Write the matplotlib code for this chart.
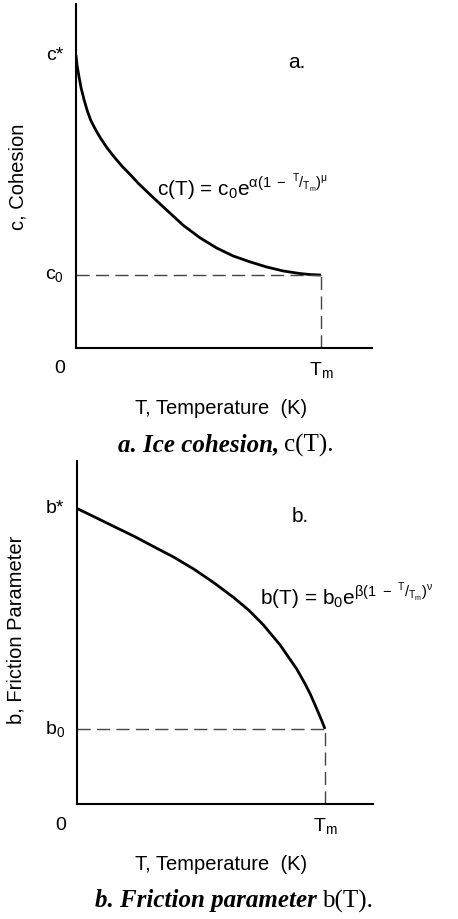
import matplotlib
matplotlib.use("Agg")
import matplotlib.pyplot as plt

plt.rcParams["font.family"] = ["Liberation Sans", "DejaVu Sans"]
plt.rcParams["mathtext.fontset"] = "custom"
plt.rcParams["mathtext.rm"] = "Liberation Sans"
plt.rcParams["mathtext.it"] = "Liberation Sans"
plt.rcParams["mathtext.bf"] = "Liberation Sans:bold"

# T / Tm along the curve, and the property in units of its melting value
cohesion_t = [0.0, 0.004, 0.012, 0.021, 0.033, 0.046, 0.060, 0.080, 0.101, 0.127,
              0.155, 0.188, 0.223, 0.253, 0.284, 0.325, 0.370, 0.438, 0.506,
              0.574, 0.642, 0.710, 0.778, 0.846, 0.914, 0.960, 1.0]
cohesion_c = [4.01, 3.88, 3.72, 3.56, 3.40, 3.25, 3.12, 2.99, 2.87, 2.74,
              2.62, 2.49, 2.37, 2.26, 2.16, 2.03, 1.89, 1.68, 1.51,
              1.37, 1.26, 1.18, 1.11, 1.055, 1.02, 1.005, 1.0]

friction_t = [0.0, 0.069, 0.149, 0.230, 0.310, 0.391, 0.472, 0.552, 0.633,
              0.694, 0.751, 0.819, 0.886, 0.920, 0.940, 0.960, 0.973, 0.987, 1.0]
friction_b = [3.94, 3.83, 3.70, 3.57, 3.43, 3.29, 3.13, 2.95, 2.75,
              2.58, 2.39, 2.12, 1.80, 1.60, 1.47, 1.32, 1.22, 1.11, 1.0]

c_star, c_zero = 4.01, 1.0
b_star, b_zero = 3.94, 1.0
t_melt = 1.0

W, H = 458, 919
fig = plt.figure(figsize=(W / 100, H / 100), dpi=100)


def box(left, top, right, bottom):
    return [left / W, 1 - bottom / H, (right - left) / W, (bottom - top) / H]


def fxy(x, y):
    return x / W, 1 - y / H


def panel(rect, xmax, ymax, t, v, star, zero, star_lab, zero_lab, letter, eq,
          eq_xy, ylab, ylab_xy, cap_a, cap_b, cap_x, cap_y, top):
    ax = fig.add_axes(rect)
    ax.plot(t, v, color="black", lw=2.0, solid_capstyle="butt",
            solid_joinstyle="round")
    ax.plot([0, t_melt], [zero, zero], color="#444444", lw=1.0, dashes=(9.5, 4.5))
    ax.plot([t_melt, t_melt], [0, zero], color="#444444", lw=1.0, dashes=(9.5, 4.5))
    ax.set_xlim(0, xmax)
    ax.set_ylim(0, ymax)
    for s in ("top", "right"):
        ax.spines[s].set_visible(False)
    for s in ("left", "bottom"):
        ax.spines[s].set_linewidth(1.5)
    ax.set_xticks([])
    ax.set_yticks([])

    ax.text(-0.05, star, star_lab, fontsize=14, ha="right", va="center")
    ax.text(-0.05, zero, zero_lab, fontsize=14, ha="right", va="center")
    ax.text(-0.065, -0.28, "0", fontsize=14, ha="center", va="center")
    ax.text(t_melt, -0.3, r"T$_{\rm m}$", fontsize=14, ha="center", va="center")
    ax.text(0.9, star - 0.1, letter, fontsize=15, ha="center", va="center")
    fig.text(*fxy(*eq_xy), eq, fontsize=15, ha="left", va="baseline")

    fig.text(*fxy(*ylab_xy), ylab, fontsize=14.5, rotation=90,
             ha="center", va="center")
    fig.text(*fxy(221, top), "T, Temperature  (K)", fontsize=14.5,
             ha="center", va="center")
    fig.text(*fxy(cap_x - 3, cap_y), cap_a, fontsize=18, ha="right", va="center",
             family="Liberation Serif", weight="bold", style="italic")
    fig.text(*fxy(cap_x + 2, cap_y), cap_b, fontsize=18, ha="left", va="center",
             family="Liberation Serif")
    return ax


panel(box(76, 4, 372, 348), (372 - 76) / 245, (348 - 4) / 73,
      cohesion_t, cohesion_c, c_star, c_zero, "c*", r"c$_0$", "a.",
      r"c(T) = c$_0$e$^{\alpha(1\ -\ {}^{\rm T}/{}_{\rm T_{m}})^{\mu}}$",
      (157, 196), "c, Cohesion", (18, 177),
      "a. Ice cohesion,", "c(T).", 282, 445, 409)

panel(box(77, 461, 373, 804), (373 - 77) / 248, (804 - 461) / 75,
      friction_t, friction_b, b_star, b_zero, "b*", r"b$_0$", "b.",
      r"b(T) = b$_0$e$^{\beta(1\ -\ {}^{\rm T}/{}_{\rm T_{m}})^{\nu}}$",
      (260, 605), "b, Friction Parameter", (16, 630),
      "b. Friction parameter", "b(T).", 320, 901, 864)

fig.savefig("out.png", dpi=100)
